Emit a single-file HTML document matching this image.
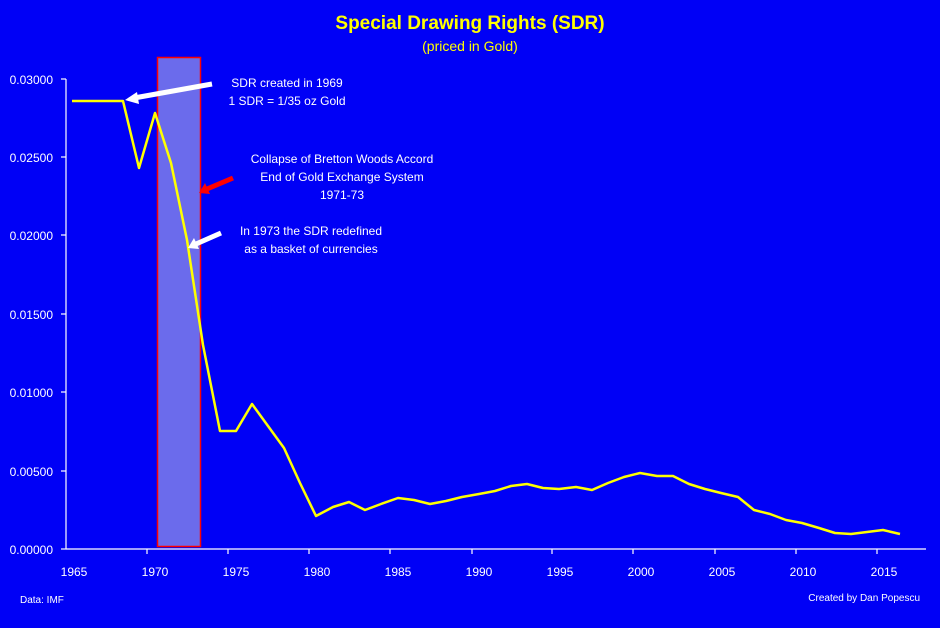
<!DOCTYPE html><html><head><style>body{margin:0;background:#0000f6}</style></head><body>
<svg width="940" height="623" xmlns="http://www.w3.org/2000/svg" font-family="Liberation Sans, sans-serif">
<rect width="940" height="623" fill="#0000f6"/>
<text x="470" y="29" text-anchor="middle" fill="#ffff00" font-size="19" font-weight="bold">Special Drawing Rights (SDR)</text>
<text x="470" y="51" text-anchor="middle" fill="#ffff00" font-size="14">(priced in Gold)</text>
<rect x="157.5" y="57.5" width="43" height="489" fill="#6b6bec" stroke="#ff0000" stroke-width="1.5"/>
<g stroke="#fff" stroke-width="1.2">
<line x1="66" y1="79" x2="66" y2="549"/><line x1="66" y1="549" x2="926" y2="549"/>
<line x1="61" y1="79" x2="66" y2="79"/><line x1="61" y1="157" x2="66" y2="157"/><line x1="61" y1="235" x2="66" y2="235"/><line x1="61" y1="314" x2="66" y2="314"/><line x1="61" y1="392" x2="66" y2="392"/><line x1="61" y1="471" x2="66" y2="471"/><line x1="61" y1="549" x2="66" y2="549"/>
<g><line x1="147" y1="549" x2="147" y2="554"/><line x1="228" y1="549" x2="228" y2="554"/><line x1="309" y1="549" x2="309" y2="554"/><line x1="390" y1="549" x2="390" y2="554"/><line x1="472" y1="549" x2="472" y2="554"/><line x1="552" y1="549" x2="552" y2="554"/><line x1="633" y1="549" x2="633" y2="554"/><line x1="715" y1="549" x2="715" y2="554"/><line x1="796" y1="549" x2="796" y2="554"/><line x1="877" y1="549" x2="877" y2="554"/></g>
</g>
<g fill="#fff" font-size="12" text-anchor="end">
<text x="53" y="84">0.03000</text><text x="53" y="162">0.02500</text><text x="53" y="240">0.02000</text><text x="53" y="319">0.01500</text><text x="53" y="397">0.01000</text><text x="53" y="476">0.00500</text><text x="53" y="554">0.00000</text>
</g>
<g fill="#fff" font-size="12" text-anchor="middle">
<text x="74" y="576">1965</text><text x="155" y="576">1970</text><text x="236" y="576">1975</text><text x="317" y="576">1980</text><text x="398" y="576">1985</text><text x="479" y="576">1990</text><text x="560" y="576">1995</text><text x="641" y="576">2000</text><text x="722" y="576">2005</text><text x="803" y="576">2010</text><text x="884" y="576">2015</text>
</g>
<text x="20" y="603" fill="#fff" font-size="10">Data: IMF</text>
<text x="920" y="601" fill="#fff" font-size="10" text-anchor="end">Created by Dan Popescu</text>
<polyline fill="none" stroke="#ffff00" stroke-width="2.5" stroke-linejoin="round" points="72,101 123,101 139,168 155,113 171,163 187,240 203,345 220,431 236,431 252,404 268,426 284,448 300,483 316,516 333,507 349,502 365,510 381,504 398,498 414,500 430,504 446,501 462,497 479,494 495,491 511,486 527,484 543,488 559,489 576,487 592,490 608,483 624,477 640,473 657,476 673,476 689,484 705,489 721,493 738,497 754,510 770,514 786,520 802,523 819,528 835,533 851,534 867,532 883,530 900,534"/>
<g stroke-width="5" stroke-linecap="butt">
<line x1="212" y1="84" x2="134" y2="98" stroke="#fff"/><polygon points="125,100 137,92 139,104" fill="#fff"/>
<line x1="233" y1="178" x2="207" y2="189" stroke="#ff0000"/><polygon points="199,193 205,183 210,194" fill="#ff0000"/>
<line x1="221" y1="233" x2="196" y2="244" stroke="#fff"/><polygon points="188,248 194,238 199,249" fill="#fff"/>
</g>
<g fill="#fff" font-size="12" text-anchor="middle">
<text x="287" y="87">SDR created in 1969</text><text x="287" y="105">1 SDR = 1/35 oz Gold</text>
<text x="342" y="163">Collapse of Bretton Woods Accord</text><text x="342" y="181">End of Gold Exchange System</text><text x="342" y="199">1971-73</text>
<text x="311" y="235">In 1973 the SDR redefined</text><text x="311" y="253">as a basket of currencies</text>
</g>
</svg></body></html>
